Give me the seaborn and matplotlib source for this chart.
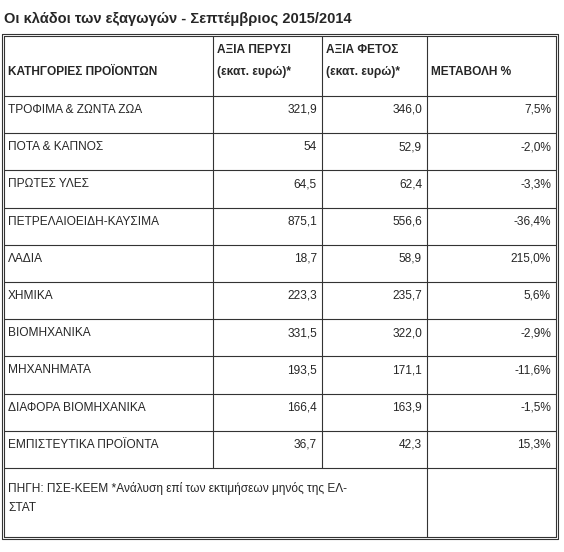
import matplotlib
matplotlib.use("Agg")
import matplotlib.pyplot as plt
import seaborn as sns

sns.set_style("white")
plt.rcParams['font.family'] = ['Arial', 'Liberation Sans', 'DejaVu Sans']

title = "Οι κλάδοι των εξαγωγών - Σεπτέμβριος 2015/2014"
categories = ["ΤΡΟΦΙΜΑ & ΖΩΝΤΑ ΖΩΑ", "ΠΟΤΑ & ΚΑΠΝΟΣ", "ΠΡΩΤΕΣ ΥΛΕΣ",
              "ΠΕΤΡΕΛΑΙΟΕΙΔΗ-ΚΑΥΣΙΜΑ", "ΛΑΔΙΑ", "ΧΗΜΙΚΑ", "ΒΙΟΜΗΧΑΝΙΚΑ",
              "ΜΗΧΑΝΗΜΑΤΑ", "ΔΙΑΦΟΡΑ ΒΙΟΜΗΧΑΝΙΚΑ", "ΕΜΠΙΣΤΕΥΤΙΚΑ ΠΡΟΪΟΝΤΑ"]
last_year = ["321,9", "54", "64,5", "875,1", "18,7", "223,3", "331,5", "193,5", "166,4", "36,7"]
this_year = ["346,0", "52,9", "62,4", "556,6", "58,9", "235,7", "322,0", "171,1", "163,9", "42,3"]
change = ["7,5%", "-2,0%", "-3,3%", "-36,4%", "215,0%", "5,6%", "-2,9%", "-11,6%", "-1,5%", "15,3%"]
footer = "ΠΗΓΗ: ΠΣΕ-ΚΕΕΜ *Ανάλυση επί των εκτιμήσεων μηνός της ΕΛ-\nΣΤΑΤ"

col_x = [4, 213, 322, 427, 556]
top, head_bot, data_bot, bottom = 36, 96, 468, 537
n = len(categories)
row_h = (data_bot - head_bot) / n

fig = plt.figure(figsize=(5.64, 5.52), dpi=100)
ax = fig.add_axes([0, 0, 1, 1])
ax.set_xlim(0, 564)
ax.set_ylim(552, 0)
ax.axis("off")

fs = 8.6
lc = "#333333"
ax.text(4, 19, title, fontsize=10.5, fontweight="bold", va="center", ha="left")

# grid lines
for y in [top, head_bot] + [head_bot + row_h * i for i in range(1, n + 1)] + [bottom]:
    ax.plot([col_x[0], col_x[-1]], [y, y], color=lc, lw=0.8)
for i, x in enumerate(col_x):
    y_end = data_bot if i in (1, 2) else bottom
    ax.plot([x, x], [top, y_end], color=lc, lw=0.8)
ax.plot([col_x[0] - 2, col_x[-1] + 2, col_x[-1] + 2, col_x[0] - 2, col_x[0] - 2],
        [top - 2, top - 2, bottom + 2, bottom + 2, top - 2], color=lc, lw=0.8)

# header
ax.text(col_x[0] + 4, 72, "ΚΑΤΗΓΟΡΙΕΣ ΠΡΟΪΟΝΤΩΝ", fontsize=fs, fontweight="bold", va="center")
for c, lab in [(1, "ΑΞΙΑ ΠΕΡΥΣΙ"), (2, "ΑΞΙΑ ΦΕΤΟΣ")]:
    ax.text(col_x[c] + 4, 50, lab, fontsize=fs, fontweight="bold", va="center")
    ax.text(col_x[c] + 4, 72, "(εκατ. ευρώ)*", fontsize=fs, fontweight="bold", va="center")
ax.text(col_x[3] + 4, 72, "ΜΕΤΑΒΟΛΗ %", fontsize=fs, fontweight="bold", va="center")

# data rows
for i in range(n):
    y = head_bot + row_h * i + 14
    ax.text(col_x[0] + 4, y, categories[i], fontsize=fs, va="center")
    ax.text(col_x[2] - 5, y, last_year[i], fontsize=fs, va="center", ha="right")
    ax.text(col_x[3] - 5, y, this_year[i], fontsize=fs, va="center", ha="right")
    ax.text(col_x[4] - 5, y, change[i], fontsize=fs, va="center", ha="right")

ax.text(col_x[0] + 4, 482, footer, fontsize=fs, va="top", linespacing=1.75)

fig.savefig("out.png", dpi=100, facecolor="white")
